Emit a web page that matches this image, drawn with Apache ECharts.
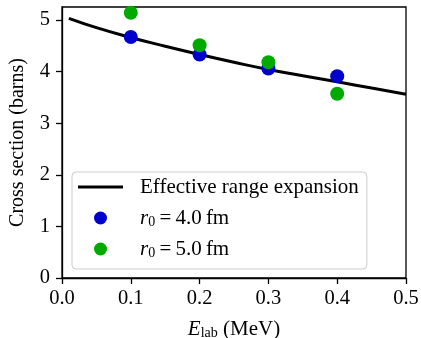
<!DOCTYPE html>
<html>
<head>
<meta charset="utf-8">
<script src="https://cdn.jsdelivr.net/npm/echarts@6/dist/echarts.min.js"></script>
<style>html,body{margin:0;padding:0;background:#fff;}#c{width:421px;height:338px;}</style>
</head>
<body>
<div id="c"></div>
<script>
// Effective range expansion curve
const curveX = [0.01, 0.05, 0.10, 0.15, 0.20, 0.25, 0.30, 0.35, 0.40, 0.45, 0.50];
const curveY = [5.03, 4.85, 4.66, 4.49, 4.33, 4.18, 4.04, 3.92, 3.80, 3.68, 3.56];
// Data points
const energies = [0.1, 0.2, 0.3, 0.4];
const r4 = [4.67, 4.33, 4.06, 3.91];
const r5 = [5.14, 4.51, 4.18, 3.57];
const xTicks = [0, 0.1, 0.2, 0.3, 0.4, 0.5];
const yTicks = [0, 1, 2, 3, 4, 5];
const seriesNames = ['Effective range expansion', 'r4', 'r5'];

const FONT = 'Liberation Serif';
const chart = echarts.init(document.getElementById('c'), null, {renderer: 'canvas'});
const zip = (xs, ys) => xs.map((x, i) => [x, ys[i]]);
chart.setOption({
  animation: false,
  backgroundColor: '#fff',
  textStyle: {fontFamily: FONT, color: '#000'},
  grid: {left: 62, right: 15, top: 7, bottom: 60, containLabel: false, outerBoundsMode: 'none',
    show: true, borderColor: '#000', borderWidth: 1.3, backgroundColor: 'transparent'},
  xAxis: {
    type: 'value', min: 0, max: 0.5, interval: 0.1,
    name: '{i|E}{s|lab}{n| (MeV)}', nameLocation: 'middle', nameGap: 40,
    nameTextStyle: {fontFamily: FONT, fontSize: 21, color: '#000',
      rich: {i: {fontFamily: FONT, fontSize: 21, fontStyle: 'italic', color: '#000'},
             s: {fontFamily: FONT, fontSize: 14, color: '#000', verticalAlign: 'bottom', padding: [8, 0, 0, 0]},
             n: {fontFamily: FONT, fontSize: 21, color: '#000'}}},
    axisLine: {show: true, onZero: false, lineStyle: {color: '#000', width: 1.3}},
    axisTick: {show: true, inside: false, length: 6, lineStyle: {color: '#000', width: 1.3}, customValues: xTicks},
    axisLabel: {fontFamily: FONT, fontSize: 20.5, color: '#000', margin: 10, customValues: xTicks,
      formatter: v => v.toFixed(1)},
    splitLine: {show: false}
  },
  yAxis: {
    type: 'value', min: 0, max: 5.25,
    name: 'Cross section (barns)', nameLocation: 'middle', nameGap: 34,
    nameTextStyle: {fontFamily: FONT, fontSize: 20, color: '#000'},
    axisLine: {show: true, onZero: false, lineStyle: {color: '#000', width: 1.3}},
    axisTick: {show: true, inside: false, length: 6, lineStyle: {color: '#000', width: 1.3}, customValues: yTicks},
    axisLabel: {fontFamily: FONT, fontSize: 20.5, color: '#000', margin: 12, customValues: yTicks,
      formatter: v => String(v)},
    splitLine: {show: false}
  },
  legend: {
    orient: 'vertical', left: 72, top: 172,
    data: [
      {name: seriesNames[0], icon: 'path://M0,0 L45,0 L45,3 L0,3 Z'},
      {name: seriesNames[1], icon: 'circle'},
      {name: seriesNames[2], icon: 'circle'}
    ],
    itemWidth: 45, itemHeight: 13, itemGap: 9,
    padding: [4, 8, 9, 6],
    backgroundColor: 'rgba(255,255,255,0.85)', borderColor: '#cccccc', borderWidth: 1, borderRadius: 4,
    textStyle: {fontFamily: FONT, fontSize: 21, color: '#000', lineHeight: 22,
      rich: {
        t: {fontFamily: FONT, fontSize: 21, color: '#000', padding: [0, 0, 0, 12]},
        i: {fontFamily: FONT, fontSize: 21, fontStyle: 'italic', color: '#000', padding: [0, 0, 0, 12]},
        s: {fontFamily: FONT, fontSize: 14, color: '#000', verticalAlign: 'bottom', padding: [6, 0, 0, 0]},
        n: {fontFamily: FONT, fontSize: 21, color: '#000'}
      }},
    formatter: name => {
      if (name === 'r4') return '{i|r}{s|0}{n|\u2009=\u20094.0\u2009fm}';
      if (name === 'r5') return '{i|r}{s|0}{n|\u2009=\u20095.0\u2009fm}';
      return '{t|' + name + '}';
    }
  },
  series: [
    {name: seriesNames[0], type: 'line', data: zip(curveX, curveY), smooth: true, showSymbol: false, symbol: 'none',
     lineStyle: {color: '#000', width: 3}, itemStyle: {color: '#000'}, z: 2},
    {name: seriesNames[1], type: 'scatter', data: zip(energies, r4), symbol: 'circle', symbolSize: 14,
     itemStyle: {color: '#0000cc', opacity: 1}, z: 3},
    {name: seriesNames[2], type: 'scatter', data: zip(energies, r5), symbol: 'circle', symbolSize: 14,
     itemStyle: {color: '#00aa00', opacity: 1}, z: 4}
  ]
});
</script>
</body>
</html>
